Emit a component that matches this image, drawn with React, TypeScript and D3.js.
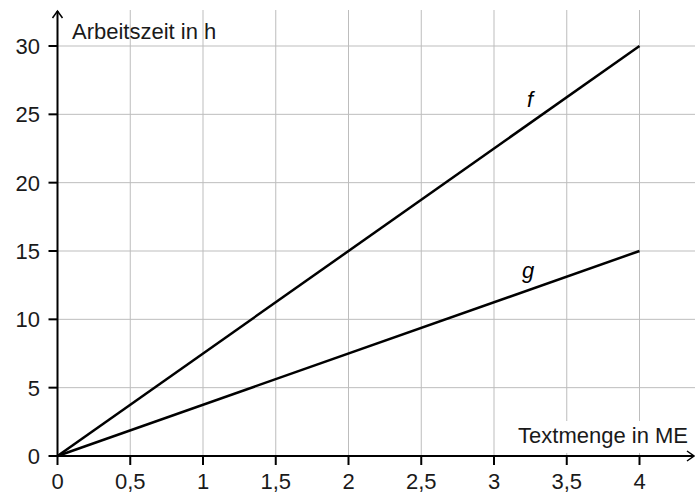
import React, { useEffect, useRef } from "react";
import * as d3 from "d3";

const xTicks = [0, 0.5, 1, 1.5, 2, 2.5, 3, 3.5, 4];
const yTicks = [0, 5, 10, 15, 20, 25, 30];
const xGrid = [0.5, 1, 1.5, 2, 2.5, 3, 3.5, 4];
const yGrid = [5, 10, 15, 20, 25, 30];
const lineF = [
  { x: 0, y: 0 },
  { x: 4, y: 30 },
];
const lineG = [
  { x: 0, y: 0 },
  { x: 4, y: 15 },
];

const W = 695;
const H = 492;

const App = () => {
  const ref = useRef<SVGSVGElement>(null);

  useEffect(() => {
    const svg = d3.select(ref.current);
    svg.selectAll("*").remove();

    const x = d3.scaleLinear().domain([0, 4]).range([57.5, 639.5]);
    const y = d3.scaleLinear().domain([0, 30]).range([456, 46]);
    const font = "'Liberation Sans', Arial, sans-serif";
    const fs = 22;

    // grid
    const grid = svg.append("g").attr("stroke", "#bdbdbd").attr("stroke-width", 1);
    grid
      .selectAll("line.v")
      .data(xGrid)
      .join("line")
      .attr("x1", (d) => x(d))
      .attr("x2", (d) => x(d))
      .attr("y1", 10)
      .attr("y2", y(0));
    grid
      .selectAll("line.h")
      .data(yGrid)
      .join("line")
      .attr("x1", x(0))
      .attr("x2", W)
      .attr("y1", (d) => y(d))
      .attr("y2", (d) => y(d));

    // white box behind x label
    svg
      .append("rect")
      .attr("x", 508)
      .attr("y", 421)
      .attr("width", 184)
      .attr("height", 32)
      .attr("fill", "#fff");

    // axes
    const ax = svg.append("g").attr("stroke", "#000").attr("stroke-width", 2);
    ax.append("line").attr("x1", x(0)).attr("x2", W - 1).attr("y1", y(0)).attr("y2", y(0));
    ax.append("line").attr("x1", x(0)).attr("x2", x(0)).attr("y1", y(0)).attr("y2", 11);
    ax.append("path")
      .attr("d", `M${x(0) - 5},${18} L${x(0)},${11} L${x(0) + 5},${18}`)
      .attr("fill", "none")
      .attr("stroke-width", 1.5);
    ax.append("path")
      .attr("d", `M${W - 8},${y(0) - 5} L${W - 1},${y(0)} L${W - 8},${y(0) + 5}`)
      .attr("fill", "none")
      .attr("stroke-width", 1.5);

    ax.selectAll("line.xt")
      .data(xTicks)
      .join("line")
      .attr("x1", (d) => x(d))
      .attr("x2", (d) => x(d))
      .attr("y1", y(0))
      .attr("y2", y(0) + 9);
    ax.selectAll("line.yt")
      .data(yTicks)
      .join("line")
      .attr("x1", x(0) - 9)
      .attr("x2", x(0))
      .attr("y1", (d) => y(d))
      .attr("y2", (d) => y(d));

    const fmt = (d: number) => String(d).replace(".", ",");

    svg
      .append("g")
      .selectAll("text")
      .data(xTicks)
      .join("text")
      .attr("x", (d) => x(d))
      .attr("y", 489)
      .attr("text-anchor", "middle")
      .attr("font-family", font)
      .attr("font-size", fs)
      .attr("fill", "#1a1a1a")
      .text(fmt);

    svg
      .append("g")
      .selectAll("text")
      .data(yTicks)
      .join("text")
      .attr("x", 40)
      .attr("y", (d) => y(d) + 8)
      .attr("text-anchor", "end")
      .attr("font-family", font)
      .attr("font-size", fs)
      .attr("fill", "#1a1a1a")
      .text(fmt);

    svg
      .append("text")
      .attr("x", 72)
      .attr("y", 39)
      .attr("font-family", font)
      .attr("font-size", fs)
      .attr("fill", "#1a1a1a")
      .text("Arbeitszeit in h");

    svg
      .append("text")
      .attr("x", 688)
      .attr("y", 443)
      .attr("text-anchor", "end")
      .attr("font-family", font)
      .attr("font-size", fs)
      .attr("fill", "#1a1a1a")
      .text("Textmenge in ME");

    // function lines
    const line = d3
      .line<{ x: number; y: number }>()
      .x((d) => x(d.x))
      .y((d) => y(d.y));
    [lineF, lineG].forEach((data) => {
      svg
        .append("path")
        .attr("d", line(data))
        .attr("fill", "none")
        .attr("stroke", "#000")
        .attr("stroke-width", 2.5);
    });

    svg
      .append("text")
      .attr("x", 527)
      .attr("y", 107)
      .attr("font-family", font)
      .attr("font-style", "italic")
      .attr("font-size", fs)
      .text("f");
    svg
      .append("text")
      .attr("x", 522)
      .attr("y", 278)
      .attr("font-family", font)
      .attr("font-style", "italic")
      .attr("font-size", fs)
      .text("g");
  }, []);

  return (
    <svg
      ref={ref}
      width={W}
      height={H}
      style={{ position: "absolute", left: 0, top: 0, background: "#fff" }}
    />
  );
};

export default App;
